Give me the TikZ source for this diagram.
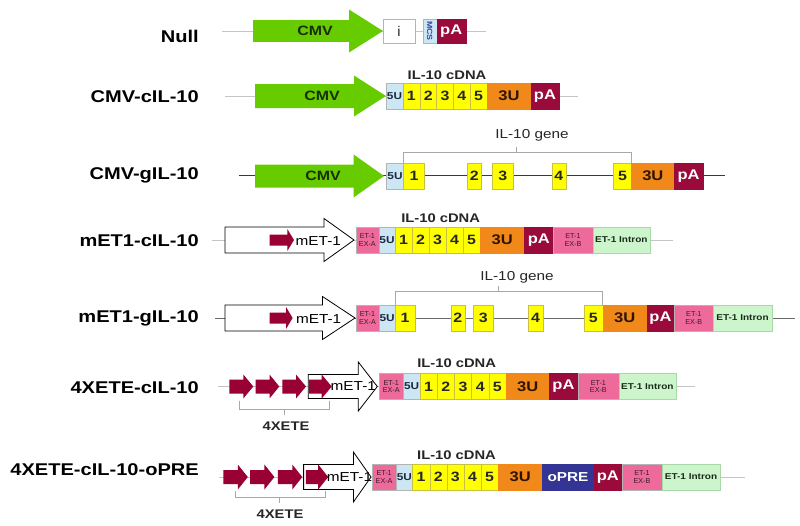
\documentclass[tikz,border=0pt]{standalone}
\usepackage{fontspec}
\setmainfont{Liberation Sans}
\usepackage{graphicx}
\definecolor{cmvgreen}{HTML}{66CC00}
\definecolor{cmvtext}{HTML}{1A2E05}
\definecolor{linelight}{HTML}{C4C4C4}
\definecolor{linedark}{HTML}{3A3A3A}
\definecolor{linemid}{HTML}{6A6A6A}
\definecolor{brkgray}{HTML}{A8A8A8}
\definecolor{boxborder}{HTML}{B4B4B4}
\definecolor{u5blue}{HTML}{CCE6F4}
\definecolor{u5text}{HTML}{1A2A40}
\definecolor{exyellow}{HTML}{FFFF00}
\definecolor{exborder}{HTML}{C8C040}
\definecolor{u3orange}{HTML}{F0891A}
\definecolor{u3text}{HTML}{2E1400}
\definecolor{pared}{HTML}{9A0A3A}
\definecolor{expink}{HTML}{EE6A9A}
\definecolor{extext}{HTML}{3A1A2A}
\definecolor{intgreen}{HTML}{CCF5CC}
\definecolor{intborder}{HTML}{A8D8A8}
\definecolor{inttext}{HTML}{1A2A1A}
\definecolor{opreblue}{HTML}{343494}
\definecolor{redarrow}{HTML}{990033}
\definecolor{mcstext}{HTML}{3344AA}
\newcommand\hs[1]{\scalebox{1.18}[1]{#1}}
\newcommand\fs[1]{\fontsize{#1}{#1}\selectfont}
\newcommand\seg[6]{\pgfmathsetmacro\segC{(#2+#3)/2}\pgfmathsetmacro\segW{#3-#2}\node[#5,minimum width=\segW pt] (#1) at (\segC,#4) {#6};}
\newcommand\barrow[7]{\path[#7] (#1,#4-#5) -- (#3,#4-#5) -- (#3,#4-#6) -- (#2,#4) -- (#3,#4+#6) -- (#3,#4+#5) -- (#1,#4+#5) -- cycle;}
\begin{document}
\begin{tikzpicture}[x=1pt,y=-1pt,
  bbl/.style={draw=linelight, line width=0.9pt},
  bbd/.style={draw=linedark, line width=1pt},
  bbm/.style={draw=linemid, line width=0.9pt},
  brk/.style={draw=brkgray, line width=0.7pt},
  box/.style={draw=boxborder, line width=0.4pt, inner sep=0pt, minimum height=26pt, outer sep=0pt},
  lbl/.style={anchor=east, inner sep=0pt, font=\fs{17}\bfseries},
  ex/.style={box, draw=exborder, fill=exyellow, font=\fs{13.5}\bfseries, text=black!85},
  ufive/.style={box, fill=u5blue, font=\fs{10}\bfseries, text=u5text},
  uthree/.style={box, fill=u3orange, draw=u3orange, font=\fs{14}\bfseries, text=u3text},
  pa/.style={box, fill=pared, draw=pared, font=\fs{14}\bfseries, text=white},
  exab/.style={box, fill=expink, font=\fs{7.2}, align=center, text=extext},
  intr/.style={box, draw=intborder, fill=intgreen, font=\fs{8.5}\bfseries, text=inttext},
  opre/.style={box, fill=opreblue, draw=opreblue, font=\fs{13}\bfseries, text=white},
  ibox/.style={box, fill=white, minimum height=24.5pt, font=\fs{14}, text=black!75},
  mcsbox/.style={box, fill=u5blue, minimum height=24.5pt},
  garrow/.style={fill=cmvgreen},
  warrow/.style={fill=white, draw=black, line width=0.8pt},
  rarrow/.style={fill=redarrow},
  cmvtxt/.style={font=\fs{13.5}\bfseries, text=cmvtext, inner sep=0pt},
  mettxt/.style={font=\fs{13}, text=black, inner sep=0pt},
  cdna/.style={font=\fs{12.5}\bfseries, text=black!85, inner sep=0pt},
  gene/.style={font=\fs{13}, text=black!85, inner sep=0pt},
  xete/.style={font=\fs{12.5}\bfseries, text=black!85, inner sep=0pt}]
\useasboundingbox (0,0) rectangle (800,525);
\fill[white] (0,0) rectangle (800,525);

% ---------- row labels ----------
\node[lbl] (l1) at (199,36) {\hs{Null}};
\node[lbl] (l2) at (199,97) {\hs{CMV-cIL-10}};
\node[lbl] (l3) at (199,175) {\hs{CMV-gIL-10}};
\node[lbl] (l4) at (199,241) {\hs{mET1-cIL-10}};
\node[lbl] (l5) at (199,318) {\hs{mET1-gIL-10}};
\node[lbl] (l6) at (199,388) {\hs{4XETE-cIL-10}};
\node[lbl] (l7) at (199,470) {\hs{4XETE-cIL-10-oPRE}};

% ---------- row 1: Null ----------
\coordinate (r1a) at (222,31); \coordinate (r1b) at (486,31);
\draw[bbl] (r1a) -- (r1b);
\barrow{253}{383}{349}{31}{10.8}{21.5}{garrow}
\node[cmvtxt] (cmv1) at (315,31) {\hs{CMV}};
\seg{i1}{383}{415}{31}{ibox}{\hs{i}}
\seg{mcs1}{422.7}{436.7}{31}{mcsbox}{}
\node[rotate=-90, font=\fs{7.5}\bfseries, text=mcstext, inner sep=0pt] (mcst) at (mcs1) {\hs{MCS}};
\seg{pa1}{436.7}{465.7}{31}{pa, minimum height=24.5pt}{\hs{pA}}

% ---------- row 2: CMV-cIL-10 ----------
\coordinate (r2a) at (225,96); \coordinate (r2b) at (578,96);
\draw[bbl] (r2a) -- (r2b);
\barrow{255}{386}{354}{96}{12}{20.5}{garrow}
\node[cmvtxt] (cmv2) at (322,96) {\hs{CMV}};
\node[cdna] (cd2) at (447,75) {\hs{IL-10 cDNA}};
\seg{u52}{386}{403}{96}{ufive}{\hs{5U}}
\seg{e21}{403}{419.8}{96}{ex}{\hs{1}}
\seg{e22}{419.8}{436.6}{96}{ex}{\hs{2}}
\seg{e23}{436.6}{453.4}{96}{ex}{\hs{3}}
\seg{e24}{453.4}{470.2}{96}{ex}{\hs{4}}
\seg{e25}{470.2}{487}{96}{ex}{\hs{5}}
\seg{u32}{487}{531}{96}{uthree}{\hs{3U}}
\seg{pa2}{531}{559}{96}{pa}{\hs{pA}}

% ---------- row 3: CMV-gIL-10 ----------
\coordinate (r3a) at (238.6,175); \coordinate (r3b) at (725,175);
\draw[bbd] (r3a) -- (r3b);
\barrow{255}{384}{353.6}{176}{11.5}{21.5}{garrow}
\node[cmvtxt] (cmv3) at (323,176) {\hs{CMV}};
\seg{u53}{386.4}{403.6}{176}{ufive}{\hs{5U}}
\seg{e31}{403.6}{424.3}{176}{ex}{\hs{1}}
\seg{e32}{467}{481.4}{176}{ex}{\hs{2}}
\seg{e33}{492}{513.6}{176}{ex}{\hs{3}}
\seg{e34}{551.8}{566}{176}{ex}{\hs{4}}
\seg{e35}{613.6}{631.4}{176}{ex}{\hs{5}}
\seg{u33}{631.4}{674.3}{176}{uthree}{\hs{3U}}
\seg{pa3}{674.3}{702.9}{176}{pa}{\hs{pA}}
\draw[brk] (e31.north west) -- ++(0,-10.5) -| (e35.north east);
\coordinate (g3) at (516,152.5);
\draw[brk] (g3) -- ++(0,-5.8);
\node[gene] (gn3) at (532,135) {\hs{IL-10 gene}};

% ---------- row 4: mET1-cIL-10 ----------
\coordinate (r4a) at (211.7,240); \coordinate (r4b) at (673.3,240);
\draw[bbl] (r4a) -- (r4b);
\barrow{225}{354}{324}{240}{13}{21.5}{warrow}
\barrow{269.5}{294}{287.3}{240}{5.5}{11}{rarrow}
\node[mettxt] (m4) at (318.3,241) {\hs{mET-1}};
\node[cdna] (cd4) at (440.7,218.3) {\hs{IL-10 cDNA}};
\seg{xa4}{355.7}{379}{240}{exab}{ET-1\\EX-A}
\seg{u54}{379}{395}{240}{ufive}{\hs{5U}}
\seg{e41}{395}{412}{240}{ex}{\hs{1}}
\seg{e42}{412}{429}{240}{ex}{\hs{2}}
\seg{e43}{429}{446}{240}{ex}{\hs{3}}
\seg{e44}{446}{463}{240}{ex}{\hs{4}}
\seg{e45}{463}{480}{240}{ex}{\hs{5}}
\seg{u34}{480}{524.3}{240}{uthree}{\hs{3U}}
\seg{pa4}{524.3}{553.3}{240}{pa}{\hs{pA}}
\seg{xb4}{553.3}{592.7}{240}{exab}{ET-1\\EX-B}
\seg{in4}{592.7}{650}{240}{intr}{\hs{ET-1 Intron}}

% ---------- row 5: mET1-gIL-10 ----------
\coordinate (r5a) at (215.3,318); \coordinate (r5b) at (795,318);
\draw[bbm] (r5a) -- (r5b);
\barrow{225}{355}{322.5}{318}{13}{21.5}{warrow}
\barrow{269.7}{292.6}{286}{318}{5.5}{11}{rarrow}
\node[mettxt] (m5) at (318.6,319) {\hs{mET-1}};
\seg{xa5}{356}{379}{318}{exab}{ET-1\\EX-A}
\seg{u55}{379}{395.2}{318}{ufive}{\hs{5U}}
\seg{e51}{395.2}{415}{318}{ex}{\hs{1}}
\seg{e52}{450.7}{464.8}{318}{ex}{\hs{2}}
\seg{e53}{473.6}{492.8}{318}{ex}{\hs{3}}
\seg{e54}{528.3}{542.7}{318}{ex}{\hs{4}}
\seg{e55}{584}{602.7}{318}{ex}{\hs{5}}
\seg{u35}{602.7}{646.7}{318}{uthree}{\hs{3U}}
\seg{pa5}{646.7}{674.3}{318}{pa}{\hs{pA}}
\seg{xb5}{674.3}{713.3}{318}{exab}{ET-1\\EX-B}
\seg{in5}{713.3}{771.7}{318}{intr}{\hs{ET-1 Intron}}
\draw[brk] (e51.north west) -- ++(0,-13.3) -| (e55.north east);
\coordinate (g5) at (498.5,291.7);
\draw[brk] (g5) -- ++(0,-5.8);
\node[gene] (gn5) at (517,277) {\hs{IL-10 gene}};

% ---------- row 6: 4XETE-cIL-10 ----------
\coordinate (r6a) at (218.3,386.5); \coordinate (r6b) at (695,386.5);
\draw[bbl] (r6a) -- (r6b);
\barrow{229.3}{253.3}{243.3}{386.5}{7}{12}{rarrow}
\barrow{255.7}{279.3}{269.5}{386.5}{7}{12}{rarrow}
\barrow{282.3}{306}{296}{386.5}{7}{12}{rarrow}
\barrow{308.3}{377.3}{358.3}{386.5}{12}{24.5}{warrow}
\barrow{309}{331.7}{321.7}{386.5}{7}{12}{rarrow}
\node[mettxt] (m6) at (353.3,386.5) {\hs{mET-1}};
\node[cdna] (cd6) at (456.7,363.3) {\hs{IL-10 cDNA}};
\seg{xa6}{379}{403.3}{386.5}{exab}{ET-1\\EX-A}
\seg{u56}{403.3}{420}{386.5}{ufive}{\hs{5U}}
\seg{e61}{420}{437.2}{386.5}{ex}{\hs{1}}
\seg{e62}{437.2}{454.4}{386.5}{ex}{\hs{2}}
\seg{e63}{454.4}{471.6}{386.5}{ex}{\hs{3}}
\seg{e64}{471.6}{488.8}{386.5}{ex}{\hs{4}}
\seg{e65}{488.8}{506}{386.5}{ex}{\hs{5}}
\seg{u36}{506}{549.3}{386.5}{uthree}{\hs{3U}}
\seg{pa6}{549.3}{577.7}{386.5}{pa}{\hs{pA}}
\seg{xb6}{577.7}{619}{386.5}{exab}{ET-1\\EX-B}
\seg{in6}{619}{675.7}{386.5}{intr}{\hs{ET-1 Intron}}
\coordinate (b6a) at (239.3,400.7); \coordinate (b6b) at (329.3,400.7);
\draw[brk] (b6a) -- ++(0,8.3) -| (b6b);
\coordinate (b6c) at (284,409);
\draw[brk] (b6c) -- ++(0,5.5);
\node[xete] (x6) at (286,426) {\hs{4XETE}};

% ---------- row 7: 4XETE-cIL-10-oPRE ----------
\coordinate (r7a) at (219.2,477); \coordinate (r7b) at (744.5,477);
\draw[bbl] (r7a) -- (r7b);
\barrow{223.3}{247.8}{237.8}{477}{7}{12.5}{rarrow}
\barrow{250.2}{274.4}{264.4}{477}{7}{12.5}{rarrow}
\barrow{277.9}{302.3}{292.3}{477}{7}{12.5}{rarrow}
\barrow{303.6}{371}{353.4}{477}{12.5}{25}{warrow}
\barrow{305.8}{328.2}{318.2}{477}{7}{12.5}{rarrow}
\node[mettxt] (m7) at (349.5,477) {\hs{mET-1}};
\node[cdna] (cd7) at (456.5,455) {\hs{IL-10 cDNA}};
\seg{xa7}{372}{396.2}{477}{exab}{ET-1\\EX-A}
\seg{u57}{396.2}{412.6}{477}{ufive}{\hs{5U}}
\seg{e71}{412.6}{429.72}{477}{ex}{\hs{1}}
\seg{e72}{429.72}{446.84}{477}{ex}{\hs{2}}
\seg{e73}{446.84}{463.96}{477}{ex}{\hs{3}}
\seg{e74}{463.96}{481.08}{477}{ex}{\hs{4}}
\seg{e75}{481.08}{498.2}{477}{ex}{\hs{5}}
\seg{u37}{498.2}{542.1}{477}{uthree}{\hs{3U}}
\seg{op7}{542.1}{593.9}{477}{opre}{\hs{oPRE}}
\seg{pa7}{593.9}{621.9}{477}{pa}{\hs{pA}}
\seg{xb7}{621.9}{662}{477}{exab}{ET-1\\EX-B}
\seg{in7}{662}{720}{477}{intr}{\hs{ET-1 Intron}}
\coordinate (b7a) at (235,490.7); \coordinate (b7b) at (325,490.7);
\draw[brk] (b7a) -- ++(0,6.6) -| (b7b);
\coordinate (b7c) at (279.3,497.3);
\draw[brk] (b7c) -- ++(0,6);
\node[xete] (x7) at (280,514) {\hs{4XETE}};
\end{tikzpicture}
\end{document}
